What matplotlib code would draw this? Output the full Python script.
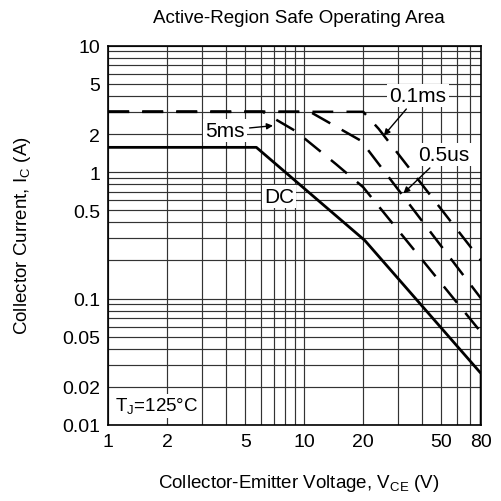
import numpy as np
import matplotlib
matplotlib.use('Agg')
from matplotlib import pyplot as plt
from matplotlib.ticker import FixedLocator, NullFormatter, NullLocator

plt.rcParams['font.family'] = ['Liberation Sans', 'DejaVu Sans']
plt.rcParams['mathtext.fontset'] = 'custom'
plt.rcParams['mathtext.rm'] = 'Liberation Sans'
plt.rcParams['lines.scale_dashes'] = False

# (V in volts, I in amps)
dc_v = [1, 5.7, 20.4, 80, 80]
dc_i = [1.57, 1.57, 0.288, 0.0255, 0.01]

ms5_v = [1, 6.14, 9.0, 14.5, 20.0, 80]
ms5_i = [3.0, 3.0, 2.12, 1.16, 0.76, 0.054]

us05_v = [1, 10.7, 19.5, 80]
us05_i = [3.0, 3.0, 1.77, 0.10]

ms01_v = [1, 20.0, 24.0, 80]
ms01_i = [3.0, 3.0, 2.2, 0.2]

x_ticks = [1, 2, 5, 10, 20, 50, 80]
x_labels = ['1', '2', '5', '10', '20', '50', '80']
y_ticks = [0.01, 0.02, 0.05, 0.1, 0.5, 1, 2, 5, 10]
y_labels = ['0.01', '0.02', '0.05', '0.1', '0.5', '1', '2', '5', '10']


def main():
    fig = plt.figure(figsize=(5.02, 5.02), dpi=100)
    ax = fig.add_axes([0.2157, 0.1514, 0.7427, 0.7556])

    ax.set_xscale('log')
    ax.set_yscale('log')
    ax.set_xlim(1, 80)
    ax.set_ylim(0.01, 10)

    # grid at every 1..9 step of each decade
    xgrid = [m * 10 ** d for d in range(0, 2) for m in range(1, 10) if m * 10 ** d <= 80]
    ygrid = [m * 10.0 ** d for d in range(-2, 1) for m in range(1, 10)] + [10]
    for xv in xgrid:
        ax.axvline(xv, color='0.2', lw=0.85, zorder=1)
    for yv in ygrid:
        ax.axhline(yv, color='0.2', lw=0.85, zorder=1)

    ax.xaxis.set_major_locator(FixedLocator(x_ticks))
    ax.set_xticklabels(x_labels)
    ax.xaxis.set_minor_locator(NullLocator())
    ax.xaxis.set_minor_formatter(NullFormatter())
    ax.yaxis.set_major_locator(FixedLocator(y_ticks))
    ax.set_yticklabels(y_labels)
    ax.yaxis.set_minor_locator(NullLocator())
    ax.yaxis.set_minor_formatter(NullFormatter())
    ax.tick_params(length=0, labelsize=14, pad=6)
    for s in ax.spines.values():
        s.set_linewidth(1.2)

    dash = (15, 9.5)
    ax.plot(dc_v, dc_i, color='k', lw=2.0, zorder=3)
    ax.plot(ms5_v, ms5_i, color='k', lw=1.8, dashes=dash, zorder=3)
    ax.plot(us05_v, us05_i, color='k', lw=1.8, dashes=dash, zorder=3)
    ax.plot(ms01_v, ms01_i, color='k', lw=1.8, dashes=dash, zorder=3)

    box = dict(facecolor='white', edgecolor='none', pad=1.5)
    arrow = dict(arrowstyle='-|>', color='k', lw=1.0, mutation_scale=9,
                 shrinkA=2, shrinkB=0)
    ax.annotate('5ms', xy=(6.93, 2.33), xytext=(3.94, 2.14), fontsize=15,
                ha='center', va='center', bbox=box, arrowprops=arrow, zorder=4)
    ax.annotate('0.1ms', xy=(25.5, 1.95), xytext=(38.1, 4.05), fontsize=15,
                ha='center', va='center', bbox=box, arrowprops=arrow, zorder=4)
    ax.annotate('0.5us', xy=(32.1, 0.68), xytext=(51.7, 1.38), fontsize=15,
                ha='center', va='center', bbox=box, arrowprops=arrow, zorder=4)
    ax.text(7.45, 0.643, 'DC', fontsize=15, ha='center', va='center',
            bbox=box, zorder=4)
    ax.text(0.018, 0.05, r'T$_\mathregular{J}$=125°C', transform=ax.transAxes,
            fontsize=13.5, ha='left', va='center', bbox=box, zorder=4)

    fig.text(0.595, 0.964, 'Active-Region Safe Operating Area', fontsize=13.5,
             ha='center', va='center')
    fig.text(0.595, 0.036, r'Collector-Emitter Voltage, V$_\mathregular{CE}$ (V)',
             fontsize=13.5, ha='center', va='center')
    fig.text(0.044, 0.53, r'Collector Current, I$_\mathregular{C}$ (A)',
             fontsize=13.5, ha='center', va='center', rotation=90)

    fig.savefig('out.png', dpi=100)


if __name__ == '__main__':
    main()
